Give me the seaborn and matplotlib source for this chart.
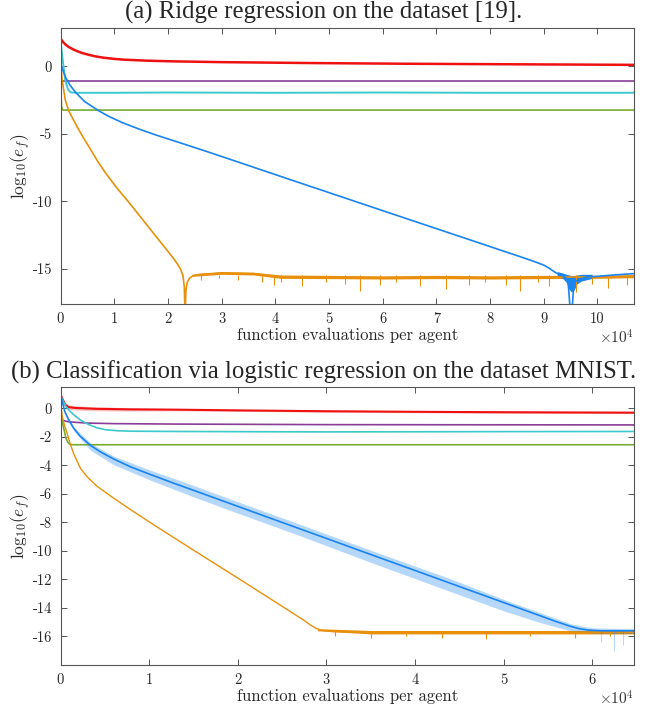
import numpy as np
import matplotlib
matplotlib.use("Agg")
import matplotlib.pyplot as plt
import seaborn as sns

# ---------------- data (x in units of 10^4 evaluations) ----------------
# (a) ridge regression
a_red_x = [0, 0.02, 0.05, 0.1, 0.15, 0.22, 0.3, 0.4, 0.52, 0.65, 0.8, 1.0, 1.2, 1.6, 2.08,
           3.0, 4.74, 6.5, 8.5, 10.68]
a_red_y = [2.1, 1.95, 1.8, 1.6, 1.45, 1.3, 1.15, 1.0, 0.87, 0.75, 0.65, 0.56, 0.5, 0.43, 0.38,
           0.32, 0.25, 0.2, 0.16, 0.12]

a_purple_x = [0, 10.68]
a_purple_y = [-1.05, -1.05]

a_cyan_x = [0, 0.04, 0.09, 0.14, 0.19, 0.3, 1, 2, 4, 6, 8, 10.68]
a_cyan_y = [2.0, 0.5, -1.05, -1.7, -1.92, -1.95, -1.95, -1.93, -1.95, -1.93, -1.95, -1.95]

a_green_x = [0, 0.02, 0.04, 10.68]
a_green_y = [-1.0, -3.0, -3.23, -3.23]

a_blue_x = [0, 0.05, 0.1, 0.18, 0.28, 0.45, 0.71, 0.9, 1.15, 1.45, 1.77, 2.2, 2.7, 3.15, 3.62,
            4.2, 4.74, 5.6, 6.56, 7.5, 8.55, 8.8, 9.0, 9.1, 9.23, 9.35, 9.45, 9.5, 9.52, 9.56,
            9.65, 9.79, 10.0, 10.3, 10.68]
a_blue_y = [0.2, -0.35, -0.85, -1.4, -1.92, -2.6, -3.28, -3.7, -4.16, -4.62, -5.07, -5.62, -6.27,
            -6.87, -7.5, -8.28, -9.0, -10.15, -11.43, -12.68, -14.08, -14.42, -14.72, -14.95, -15.3,
            -15.5, -15.8, -18.5, -18.5, -16.0, -15.8, -15.6, -15.55, -15.45, -15.35]
a_blue_band_x = [9.25, 9.35, 9.42, 9.47, 9.51, 9.56, 9.62, 9.7, 9.8, 9.9]
a_blue_band_lo = [-15.5, -15.7, -16.0, -16.5, -16.7, -16.6, -16.1, -15.9, -15.8, -15.7]
a_blue_band_hi = [-15.2, -15.3, -15.4, -15.45, -15.5, -15.5, -15.45, -15.4, -15.4, -15.4]

a_orange_x = [0, 0.03, 0.09, 0.155, 0.22, 0.3, 0.4, 0.53, 0.68, 0.84, 1.05, 1.3, 1.55, 1.8, 2.0,
              2.1, 2.18, 2.24, 2.28, 2.305, 2.32, 2.335, 2.36, 2.4, 2.47, 2.6, 3.0, 3.6, 3.9,
              4.1, 5.0, 6.0, 7.0, 8.0, 9.0, 10.0, 10.68]
a_orange_y = [0.4, -1.0, -2.5, -3.3, -3.8, -4.4, -5.1, -5.95, -6.95, -7.9, -9.0, -10.2, -11.45,
              -12.7, -13.7, -14.2, -14.65, -15.05, -15.5, -16.3, -18.5, -16.6, -16.0, -15.7, -15.5,
              -15.4, -15.3, -15.35, -15.5, -15.6, -15.6, -15.65, -15.6, -15.65, -15.6, -15.6, -15.55]
a_orange_band_x = [2.45, 3.0, 3.6, 4.1, 5.0, 6.0, 7.0, 8.0, 9.0, 10.0, 10.68]
a_orange_band_lo = [-15.55, -15.4, -15.45, -15.7, -15.72, -15.75, -15.72, -15.75, -15.72, -15.7, -15.65]
a_orange_band_hi = [-15.4, -15.2, -15.25, -15.45, -15.48, -15.52, -15.48, -15.52, -15.48, -15.48, -15.42]
a_orange_dip_x = [2.62, 2.95, 3.3, 3.75, 3.98, 4.1, 4.5, 4.95, 5.3, 5.58, 5.95, 6.25,
                  6.7, 7.17, 7.6, 7.9, 8.3, 8.55, 8.9, 9.1, 9.6, 9.9, 10.2, 10.55]
a_orange_dip_lo = [-15.8, -15.7, -15.8, -16.0, -16.2, -16.0, -16.3, -16.0, -16.1, -16.6, -16.2, -16.0,
                   -16.3, -16.5, -16.2, -16.0, -16.2, -16.6, -16.0, -16.3, -16.7, -16.1, -16.4, -16.2]

# (b) logistic regression, MNIST
b_red_x = [0, 0.015, 0.03, 0.045, 0.06, 0.08, 0.1, 0.17, 0.4, 0.8, 1.3, 2, 3, 4, 5, 6.47]
b_red_y = [0.95, 0.75, 0.55, 0.35, 0.22, 0.13, 0.08, 0.03, -0.03, -0.07, -0.09, -0.14, -0.2,
           -0.24, -0.27, -0.3]
b_red_band_lo = [0.8, 0.58, 0.38, 0.18, 0.04, -0.04, -0.08, -0.12, -0.17, -0.19, -0.17, -0.21,
                 -0.27, -0.31, -0.34, -0.37]
b_red_band_hi = [1.1, 0.92, 0.72, 0.52, 0.4, 0.3, 0.24, 0.18, 0.11, 0.05, -0.01, -0.07, -0.13,
                 -0.17, -0.2, -0.23]

b_purple_x = [0, 0.03, 0.1, 0.3, 0.6, 1.3, 3, 6.47]
b_purple_y = [-0.7, -0.85, -0.95, -1.03, -1.07, -1.1, -1.14, -1.16]

b_cyan_x = [0, 0.03, 0.06, 0.1, 0.15, 0.22, 0.32, 0.41, 0.51, 0.65, 0.8, 1.3, 3, 5, 6.47]
b_cyan_y = [0.9, 0.5, 0.14, -0.15, -0.45, -0.8, -1.14, -1.36, -1.5, -1.57, -1.6, -1.62, -1.65,
            -1.63, -1.62]

b_green_x = [0, 0.02, 0.04, 0.06, 0.08, 0.1, 0.13, 6.47]
b_green_y = [-0.5, -0.9, -1.5, -2.05, -2.35, -2.5, -2.55, -2.55]

b_blue_x = [0, 0.02, 0.05, 0.1, 0.15, 0.22, 0.34, 0.45, 0.6, 0.79, 1.02, 1.3, 1.6, 1.92, 2.3,
            2.71, 3.04, 3.5, 4.0, 4.4, 5.0, 5.4, 5.6, 5.75, 5.85, 5.95, 6.1, 6.3, 6.47]
b_blue_y = [1.0, 0.45, -0.25, -0.9, -1.4, -1.95, -2.6, -3.05, -3.55, -4.1, -4.65, -5.3, -5.97,
            -6.69, -7.55, -8.47, -9.21, -10.25, -11.37, -12.27, -13.62, -14.52, -14.97, -15.28,
            -15.45, -15.55, -15.6, -15.6, -15.6]
b_blue_band_x = [0.05, 0.15, 0.34, 0.6, 1.02, 1.5, 2.0, 2.71, 3.5, 4.4, 5.0, 5.4, 5.75, 6.0, 6.47]
b_blue_band_lo = [-0.3, -1.55, -2.95, -3.95, -5.05, -6.2, -7.35, -8.95, -10.8, -12.85, -14.2, -15.0,
                  -15.6, -15.75, -15.8]
b_blue_band_hi = [-0.2, -1.3, -2.45, -3.35, -4.35, -5.4, -6.55, -8.15, -9.95, -11.95, -13.4, -14.3,
                  -15.1, -15.4, -15.45]
b_blue_dip_x = [6.1, 6.25, 6.35]
b_blue_dip_lo = [-16.4, -17.0, -16.6]

b_orange_x = [0, 0.02, 0.05, 0.075, 0.11, 0.15, 0.225, 0.3, 0.41, 0.6, 0.79, 1.01, 1.3, 1.54,
              2.0, 2.29, 2.5, 2.65, 2.75, 2.82, 2.88, 2.95, 3.05, 3.3, 4.0, 5.0, 6.0, 6.47]
b_orange_y = [0.5, -0.6, -1.3, -1.75, -2.5, -3.2, -4.2, -4.8, -5.45, -6.3, -7.1, -8.0, -9.15,
              -10.1, -11.9, -13.05, -13.88, -14.48, -14.88, -15.2, -15.42, -15.57, -15.65, -15.7,
              -15.7, -15.7, -15.7, -15.7]
b_orange_band_x = [2.9, 3.5, 4.5, 5.5, 6.47]
b_orange_band_lo = [-15.6, -15.82, -15.82, -15.82, -15.82]
b_orange_band_hi = [-15.45, -15.58, -15.58, -15.58, -15.58]
b_orange_dip_x = [3.1, 3.5, 3.9, 4.3, 4.8, 5.3, 5.8, 6.2]
b_orange_dip_lo = [-16.0, -16.1, -16.0, -16.1, -16.2, -16.0, -16.1, -16.0]

a_xticks = list(range(0, 11))
a_yticks = [-15, -10, -5, 0]
b_xticks = list(range(0, 7))
b_yticks = [-16, -14, -12, -10, -8, -6, -4, -2, 0]

title_a = "(a) Ridge regression on the dataset [19]."
title_b = "(b) Classification via logistic regression on the dataset MNIST."
xlabel = "function evaluations per agent"
ylabel = r"$\mathrm{log}_{10}(e_f)$"

RED = "#EE1111"
PURPLE = "#8A3D98"
CYAN = "#3CC8CC"
GREEN = "#77AC30"
BLUE = "#1A84F0"
ORANGE = "#E8900C"

sns.set_style("white")
plt.rcParams["mathtext.fontset"] = "cm"
plt.rcParams["axes.unicode_minus"] = False

fig = plt.figure(figsize=(6.48, 7.13), dpi=100)
ax1 = fig.add_axes([60.5 / 648, 1 - 304 / 713, (634 - 60.5) / 648, 276 / 713])
ax2 = fig.add_axes([60.5 / 648, 1 - 665 / 713, (634 - 60.5) / 648, 278 / 713])


def line(ax, x, y, color, lw=1.2):
    sns.lineplot(x=x, y=y, color=color, lw=lw, estimator=None, sort=False, ax=ax, legend=False)


# top panel
line(ax1, a_red_x, a_red_y, RED, 1.8)
line(ax1, a_purple_x, a_purple_y, PURPLE)
line(ax1, a_cyan_x, a_cyan_y, CYAN, 1.4)
line(ax1, a_green_x, a_green_y, GREEN)
ax1.fill_between(a_orange_band_x, a_orange_band_lo, a_orange_band_hi, color=ORANGE, lw=0)
ax1.vlines(a_orange_dip_x, a_orange_dip_lo, -15.45, color=ORANGE, lw=0.8)
line(ax1, a_orange_x, a_orange_y, ORANGE)
ax1.fill_between(a_blue_band_x, a_blue_band_lo, a_blue_band_hi, color=BLUE, lw=0)
line(ax1, a_blue_x, a_blue_y, BLUE)

# bottom panel
ax2.fill_between(b_red_x, b_red_band_lo, b_red_band_hi, color=RED, lw=0, alpha=0.25)
line(ax2, b_red_x, b_red_y, RED, 1.5)
line(ax2, b_purple_x, b_purple_y, PURPLE)
line(ax2, b_cyan_x, b_cyan_y, CYAN)
line(ax2, b_green_x, b_green_y, GREEN)
ax2.fill_between(b_orange_band_x, b_orange_band_lo, b_orange_band_hi, color=ORANGE, lw=0)
ax2.vlines(b_orange_dip_x, b_orange_dip_lo, -15.65, color=ORANGE, lw=0.8)
line(ax2, b_orange_x, b_orange_y, ORANGE, 1.0)
ax2.fill_between(b_blue_band_x, b_blue_band_lo, b_blue_band_hi, color=BLUE, lw=0, alpha=0.32)
ax2.vlines(b_blue_dip_x, b_blue_dip_lo, -15.6, color=BLUE, lw=0.8, alpha=0.3)
line(ax2, b_blue_x, b_blue_y, BLUE, 1.2)

ax1.set_xlim(0, 10.68)
ax1.set_ylim(-17.6, 2.85)
ax2.set_xlim(0, 6.47)
ax2.set_ylim(-18.0, 1.5)

for ax, xt, yt in [(ax1, a_xticks, a_yticks), (ax2, b_xticks, b_yticks)]:
    ax.set_xticks(xt)
    ax.set_xticklabels([str(v) for v in xt], fontfamily="cmr10", fontsize=10.5)
    ax.set_yticks(yt)
    ax.set_yticklabels([str(v) for v in yt], fontfamily="cmr10", fontsize=10.5)
    ax.tick_params(direction="in", length=4, width=0.7, color="#555555",
                   top=True, right=True, bottom=True, left=True, pad=6)
    for s in ax.spines.values():
        s.set_color("#555555")
        s.set_linewidth(0.8)
    ax.set_xlabel(xlabel, fontfamily="cmr10", fontsize=12, labelpad=1)
    ax.set_ylabel(ylabel, fontsize=12.5)
    ax.yaxis.set_label_coords(-0.048, 0.5)
    ax.text(1.0, -0.09, r"$\times10^4$", transform=ax.transAxes, ha="right", va="top",
            fontsize=11, color="#333333")

fig.text(0.5, 1 - 12 / 713, title_a, ha="center", va="center",
         fontfamily="Liberation Serif", fontsize=17.8)
fig.text(0.5, 1 - 372 / 713, title_b, ha="center", va="center",
         fontfamily="Liberation Serif", fontsize=17.8)

fig.savefig("out.png", dpi=100)
